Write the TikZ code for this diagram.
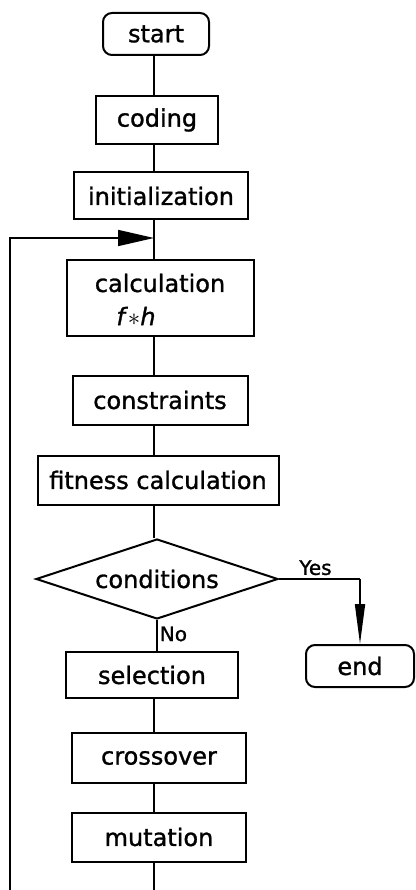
\documentclass[tikz,border=0pt]{standalone}
\usepackage{fontspec}
\setmainfont[FakeBold=1.2, AutoFakeBold=1.2]{DejaVu Sans}
\usetikzlibrary{shapes.geometric,arrows.meta}

\tikzset{
  box/.style={draw, line width=2pt, minimum height=48pt, inner sep=0pt},
  term/.style={box, rounded corners=9pt, minimum height=42pt},
  flow/.style={line width=1.7pt},
  lbl/.style={font=\fontsize{24}{28}\selectfont\bfseries},
  small/.style={font=\fontsize{20}{22}\selectfont\bfseries}
}

\begin{document}
\begin{tikzpicture}[x=1pt, y=-1pt, lbl]
	\useasboundingbox (0,0) rectangle (415,890);
	% main column
	\node[term, minimum width=106pt] (start) at (156,34) {start};
	\node[box, minimum width=122pt] (coding) at (157,120) {coding};
	\node[box, minimum width=174pt, minimum height=47pt] (init) at (161,196) {initialization};
	\node[box, minimum width=187pt, minimum height=76pt] (calc) at (160,298) {};
	\node (calctxt) at (160,283) {calculation};
	\node (fh) at (136,316) {\textit{f}$\ast$\textit{h}};
	\node[box, minimum width=175pt, minimum height=49pt] (cons) at (160,400) {constraints};
	\node[box, minimum width=241pt, minimum height=49pt] (fit) at (158,480) {fitness calculation};
	\node[diamond, draw, line width=2pt, aspect=3, minimum width=242pt, minimum height=80pt, inner sep=0pt] (cond) at (157,579) {conditions};
	\node[box, minimum width=172pt, minimum height=46pt] (sel) at (152,675) {selection};
	\node[box, minimum width=174pt, minimum height=50pt] (cross) at (159,758) {crossover};
	\node[box, minimum width=174pt, minimum height=49pt] (mut) at (159,837) {mutation};
	\node[term, minimum width=108pt] (end) at (360,666) {end};
	\coordinate (merge) at (154,238);
	\coordinate (botR) at (154,890);
	\coordinate (botL) at (10,890);
	\coordinate (yes) at (cond.east -| end.north);

	% connectors
	\draw[flow] (start.south -| merge) -- (coding.north -| merge);
	\draw[flow] (coding.south -| merge) -- (init.north -| merge);
	\draw[flow] (init.south -| merge) -- (calc.north -| merge);
	\draw[flow] (calc.south -| merge) -- (cons.north -| merge);
	\draw[flow] (cons.south -| merge) -- (fit.north -| merge);
	\draw[flow] (fit.south -| merge) -- (cond.north -| merge);
	\draw[flow] (cond.south) -- node[small, right, pos=0.45, inner sep=2pt] {No} (sel.north -| cond.south);
	\draw[flow] (sel.south -| merge) -- (cross.north -| merge);
	\draw[flow] (cross.south -| merge) -- (mut.north -| merge);
	\draw[flow] (mut.south -| merge) -- (botR);
	\draw[flow, -{Triangle[length=36pt, width=16pt]}] (botL) |- (merge);
	\draw[flow] (cond.east) -- node[small, above, pos=0.45, inner sep=3pt] {Yes} (yes);
	\draw[flow, -{Triangle[length=40pt, width=10pt]}] (yes) -- (end.north);
\end{tikzpicture}
\end{document}
